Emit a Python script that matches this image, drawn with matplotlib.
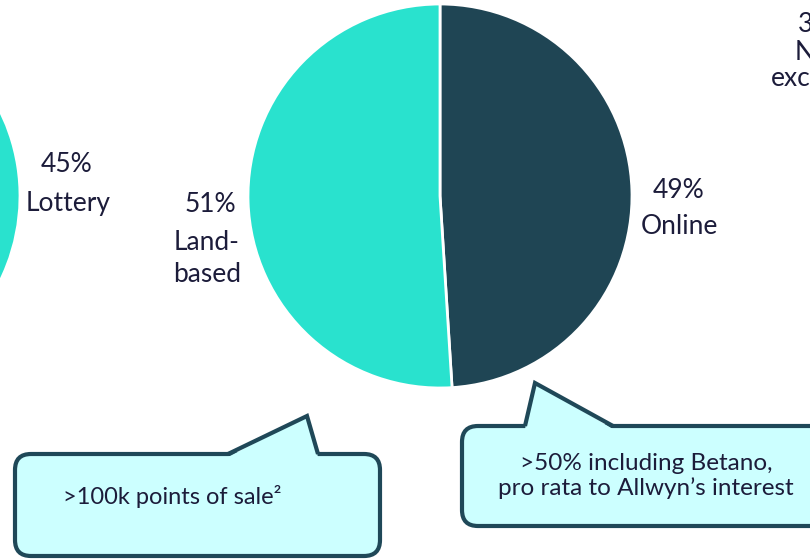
import matplotlib.pyplot as plt
from matplotlib.patches import FancyBboxPatch, Polygon

# data
segment_labels = ["Online", "Land-\nbased"]
segment_pct = [49, 51]
lottery_labels = ["Lottery", "Other"]
lottery_pct = [45, 55]
callout_left = ">100k points of sale\u00b2"
callout_right = ">50% including Betano,\npro rata to Allwyn\u2019s interest"

teal = "#29E2CE"
dark = "#1F4554"
box_fill = "#CCFFFF"
box_edge = "#1F4858"
txt = "#1C1C3A"

W, H = 810, 559
fig = plt.figure(figsize=(W / 100, H / 100), dpi=100, facecolor="white")
ax = fig.add_axes([0, 0, 1, 1])
plt.rcParams["font.family"] = ["Lato", "DejaVu Sans"]


def py(y):
    # pixel row -> data y
    return H - y


# left (partially visible) pie
ax.pie(lottery_pct, colors=[teal, dark], startangle=90, counterclock=False,
       center=(-172, py(196)), radius=192,
       wedgeprops=dict(edgecolor="white", linewidth=2))

# main pie
ax.pie(segment_pct, colors=[dark, teal], startangle=90, counterclock=False,
       center=(440, py(196)), radius=192,
       wedgeprops=dict(edgecolor="white", linewidth=2))

fs = 19
ax.text(67, py(165), f"{lottery_pct[0]}%", ha="center", va="center", fontsize=fs, color=txt)
ax.text(68, py(203), lottery_labels[0], ha="center", va="center", fontsize=fs, color=txt)
ax.text(210, py(205), f"{segment_pct[1]}%", ha="center", va="center", fontsize=fs, color=txt)
ax.text(207, py(259), segment_labels[1], ha="center", va="center", fontsize=fs,
        color=txt, linespacing=1.35)
ax.text(679, py(190), f"{segment_pct[0]}%", ha="center", va="center", fontsize=fs, color=txt)
ax.text(679, py(226), segment_labels[0], ha="center", va="center", fontsize=fs, color=txt)

# text cut off at the right edge, as in the source slide
ax.text(824, py(52), "35%\nNon-\nexclusive", ha="center", va="center", fontsize=fs,
        color=txt, linespacing=1.1)


def callout(x0, x1, y_top, y_bot, tail):
    box = FancyBboxPatch((x0, py(y_bot)), x1 - x0, y_bot - y_top,
                         boxstyle="round,pad=0,rounding_size=16",
                         facecolor=box_fill, edgecolor=box_edge, linewidth=3,
                         zorder=3)
    ax.add_patch(box)
    (ax_, ay), (bx, by), (cx, cy) = tail
    poly = Polygon([(ax_, py(ay + 3)), (bx, py(by)), (cx, py(cy + 3))],
                   closed=True, facecolor=box_fill, edgecolor="none", zorder=4)
    ax.add_patch(poly)
    ax.plot([ax_, bx, cx], [py(ay), py(by), py(cy)], color=box_edge, lw=3,
            solid_joinstyle="miter", solid_capstyle="butt", zorder=5)


callout(15, 380, 454, 556, [(228, 454), (307, 416), (318, 454)])
callout(462, 860, 426, 526, [(525, 426), (535, 383), (613, 426)])

ax.text(63, py(497), callout_left, ha="left", va="center", fontsize=17, color=txt, zorder=6)
ax.text(646, py(476), callout_right, ha="center", va="center", fontsize=17.5, color=txt,
        linespacing=1.2, zorder=6)

ax.set_xlim(0, W)
ax.set_ylim(0, H)
ax.set_aspect("equal")
ax.axis("off")

fig.savefig("out.png", dpi=100, facecolor="white")
